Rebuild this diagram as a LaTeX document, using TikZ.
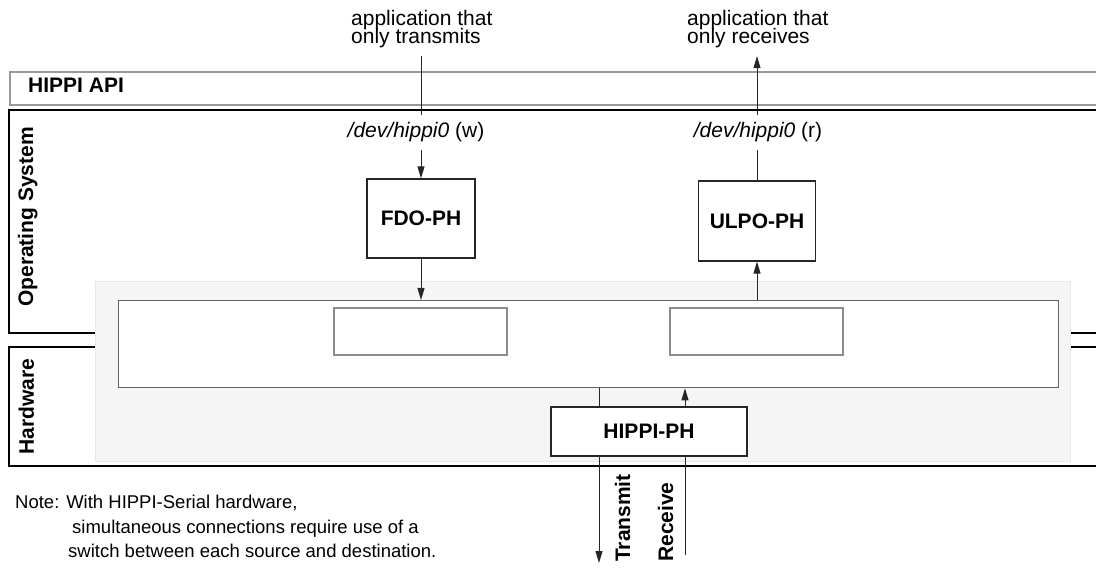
\documentclass[tikz,border=0pt]{standalone}
\usepackage{fontspec}
\setmainfont{Liberation Sans}
\usetikzlibrary{arrows.meta}
\begin{document}
\begin{tikzpicture}[x=1pt,y=-1pt,
  lbl/.style={font=\fontsize{21}{18}\selectfont, inner sep=0pt},
  blbl/.style={inner sep=0pt, font=\fontsize{21}{18}\selectfont\bfseries},
  notelbl/.style={inner sep=0pt, font=\fontsize{18.5}{24}\selectfont, anchor=base west},
  layer/.style={draw=black, line width=2.6pt},
  module/.style={draw=black!85, line width=1.1pt, fill=white, inner sep=0pt,
    font=\fontsize{21}{18}\selectfont\bfseries},
  slot/.style={draw=black!45, line width=1.6pt, fill=white},
  flow/.style={draw=black!85, line width=1pt, -{Triangle[length=12pt,width=7pt]}},
  plain/.style={draw=black!85, line width=1pt},
]
\useasboundingbox (0,0) rectangle (1096,569);
\clip (0,0) rectangle (1096,569);

% software / hardware layers
\draw[draw=black!40, line width=2.5pt] (10,72) rectangle (1110,105);
\node[blbl, anchor=base west] (api) at (28,93) {HIPPI API};
\draw[layer] (9,110) rectangle (1110,333);
\draw[layer] (9,347) rectangle (1110,466);
\node[blbl, rotate=90, anchor=base west] (os) at (33,307) {Operating System};
\node[blbl, rotate=90, anchor=base west] (hw) at (34,455) {Hardware};

% interface card area
\fill[fill=black!4, draw=black!9, line width=1pt] (95,282) rectangle (1070,462);
\node[draw=black!62, line width=1.3pt, fill=white, inner sep=0pt,
  minimum width=940pt, minimum height=87pt, anchor=north west] (board) at (118,300) {};
\node[slot, inner sep=0pt, minimum width=173pt, minimum height=47pt, anchor=north west] (slotw) at (333,307) {};
\node[slot, inner sep=0pt, minimum width=173pt, minimum height=47pt, anchor=north west] (slotr) at (669,307) {};

% driver modules
\node[module, minimum width=108pt, minimum height=79pt] (fdo) at (421,218.5) {FDO-PH};
\node[module, minimum width=117pt, minimum height=80pt] (ulpo) at (757,221) {ULPO-PH};

% applications and device files
\node[lbl, align=left, anchor=north west, outer ysep=8pt] (apptx) at (351,2) {application that\\[-2pt]only transmits};
\node[lbl, align=left, anchor=north west, outer ysep=8pt] (apprx) at (687,2) {application that\\[-2pt]only receives};
\node[lbl, anchor=base, outer ysep=8pt] (devw) at (416,138) {\textit{/dev/hippi0} (w)};
\node[lbl, anchor=base, outer ysep=8pt] (devr) at (758,138) {\textit{/dev/hippi0} (r)};

% transmit path
\draw[plain] (fdo.north |- apptx.south) -- (fdo.north |- devw.north);
\draw[flow] (fdo.north |- devw.south) -- (fdo.north);
\draw[flow] (fdo.south) -- (fdo.south |- board.north);

% receive path
\draw[flow] (ulpo.south |- board.north) -- (ulpo.south);
\draw[plain] (ulpo.north) -- (ulpo.north |- devr.south);
\draw[flow] (ulpo.north |- devr.north) -- (ulpo.north |- apprx.south);

% serial links
\coordinate (txout) at (599,563);
\coordinate (rxin) at (685,555);
\draw[flow] (board.south -| txout) -- (txout);
\draw[flow] (rxin) -- (rxin |- board.south);
\node[module, minimum width=196pt, minimum height=49pt] (phy) at (649,431.5) {HIPPI-PH};
\node[blbl, rotate=90, anchor=base west] (txl) at (630,562) {Transmit};
\node[blbl, rotate=90, anchor=base west] (rxl) at (673,562) {Receive};

% note
\node[notelbl] (note1) at (15,508) {Note: With HIPPI-Serial hardware,};
\node[notelbl] (note2) at (72,533) {simultaneous connections require use of a};
\node[notelbl] (note3) at (68,557) {switch between each source and destination.};
\end{tikzpicture}
\end{document}
